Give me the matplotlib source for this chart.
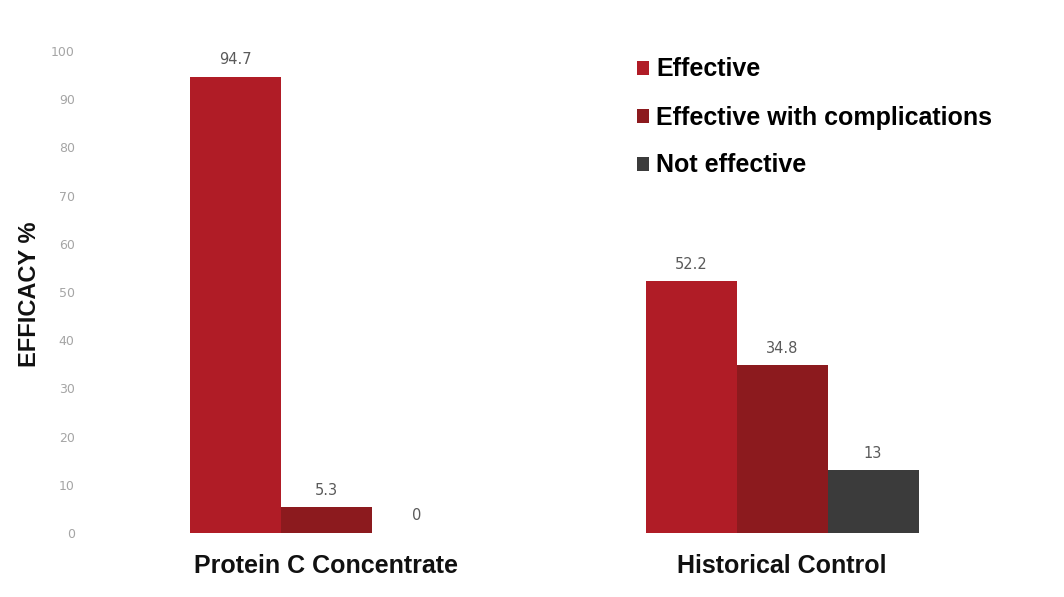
import matplotlib.pyplot as plt
import numpy as np
from matplotlib.patches import Patch

groups = ["Protein C Concentrate", "Historical Control"]
series_names = ["Effective", "Effective with complications", "Not effective"]
effective = [94.7, 52.2]
with_complications = [5.3, 34.8]
not_effective = [0, 13]
value_labels = [["94.7", "52.2"], ["5.3", "34.8"], ["0", "13"]]
colors = ["#b01c26", "#8c1a1e", "#3b3b3b"]
y_ticks = list(range(0, 101, 10))

W, H = 1064, 597
fig = plt.figure(figsize=(W / 100, H / 100), dpi=100)
fig.patch.set_facecolor("white")

# axes placed in pixel terms: y 0 at 533px, 100 at 51px from top
ax_left, ax_right = 90, 1000
ax_bottom, ax_top = 533, 51
ax = fig.add_axes([ax_left / W, (H - ax_bottom) / H,
                   (ax_right - ax_left) / W, (ax_bottom - ax_top) / H])

# group centres at 326px and 782px
px_per_unit = 782 - 326
ax.set_xlim((ax_left - 326) / px_per_unit, (ax_right - 326) / px_per_unit)
ax.set_ylim(0, 100)

x = np.arange(len(groups))
width = 91 / px_per_unit
all_values = [effective, with_complications, not_effective]

for i, (vals, color, labels) in enumerate(zip(all_values, colors, value_labels)):
    offs = (i - 1) * width
    ax.bar(x + offs, vals, width=width, color=color, edgecolor="none")
    for xi, v, lab in zip(x + offs, vals, labels):
        ax.text(xi, v + 2.0, lab, ha="center", va="bottom",
                fontsize=10.5, color="#5a5a5a")

for s in ax.spines.values():
    s.set_visible(False)
ax.set_yticks(y_ticks)
ax.set_yticklabels([str(t) for t in y_ticks], fontsize=9, color="#a5a5a5")
ax.tick_params(axis="y", length=0, pad=11)
ax.set_xticks(x)
ax.set_xticklabels(groups, fontsize=18, fontweight="bold",
                   family="Liberation Sans", color="#111111")
ax.tick_params(axis="x", length=0, pad=15)

fig.text(30 / W, (H - 294) / H, "EFFICACY %", rotation=90, ha="center", va="center",
         fontsize=17, fontweight="bold", family="Liberation Sans", color="#111111")

handles = [Patch(facecolor=c, edgecolor="none") for c in colors]
fig.legend(handles, series_names, loc="upper left",
           bbox_to_anchor=(614 / W, (H - 35) / H),
           frameon=False, handlelength=0.5, handleheight=0.5, handletextpad=0.3,
           labelspacing=0.96,
           prop={"family": "Liberation Sans", "weight": "bold", "size": 18})

fig.savefig("out.png", dpi=100, facecolor="white")
